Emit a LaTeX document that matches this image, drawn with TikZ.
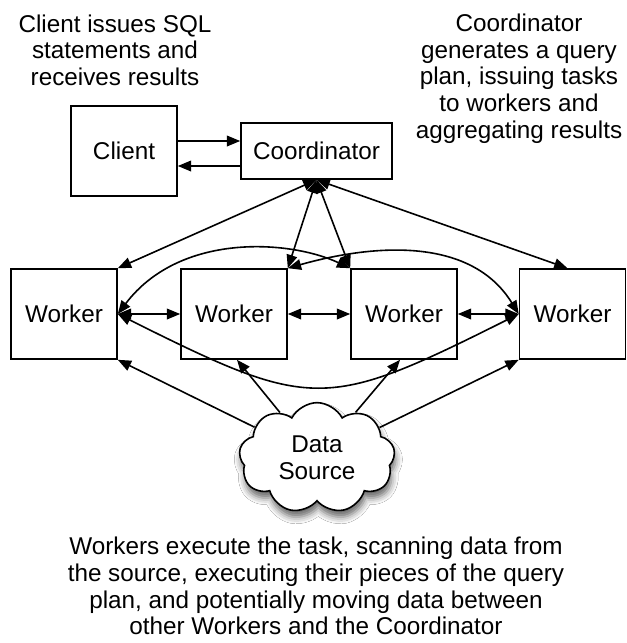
\documentclass[tikz,border=0pt]{standalone}
\usepackage{fontspec}
\setmainfont{Liberation Sans}
\usetikzlibrary{arrows.meta,shapes.symbols,shadows.blur,calc}
\begin{document}
\begin{tikzpicture}[x=0.75pt,y=-0.75pt,
  every node/.style={font=\fontsize{18.2pt}{20pt}\selectfont},
  box/.style={draw, line width=1.2pt, minimum width=79.5pt, minimum height=67.5pt, inner sep=0pt},
  link/.style={line width=1.2pt, -{Triangle[length=10pt,width=8pt]}},
  dlink/.style={line width=1.2pt, {Triangle[length=10pt,width=8pt]}-{Triangle[length=10pt,width=8pt]}},
  note/.style={align=center, inner sep=0pt},
  cloudbox/.style={cloud, cloud puffs=9, cloud puff arc=125, cloud ignores aspect, draw, fill=white, line width=1.2pt,
     minimum width=117pt, minimum height=83pt, inner sep=0pt, align=center,
     blur shadow={shadow xshift=1pt, shadow yshift=-5pt, shadow blur radius=5pt, shadow opacity=60}}]
\path[fill=white,use as bounding box] (0,0) rectangle (626,643);

% notes
\node[note] (noteclient) at (115,50.3) {Client issues SQL\\statements and\\receives results};
\node[note] (notecoord) at (519,78.5) {Coordinator\\generates a query\\plan, issuing tasks\\to workers and\\aggregating results};
\node[note] (noteworker) at (316,586) {Workers execute the task, scanning data from\\the source, executing their pieces of the query\\plan, and potentially moving data between\\other Workers and the Coordinator};

% boxes
\node[box] (client) at (124,151) {Client};
\node[box, minimum width=113.25pt, minimum height=42pt] (coord) at (316.5,151) {Coordinator};
\node[box] (w1) at (64,314) {Worker};
\node[box] (w2) at (234,314) {Worker};
\node[box] (w3) at (404,314) {Worker};
\node[box] (w4) at (572.5,314) {Worker};
\node[cloudbox] (src) at (317,458) {Data\\Source};

% client <-> coordinator
\draw[link] ($(client.east)+(0,-10)$) -- ($(coord.west)+(0,-10)$);
\draw[link] ($(coord.west)+(0,15)$) -- ($(client.east)+(0,15)$);

% coordinator <-> workers
\draw[dlink] (coord.south) -- (w1.north east);
\draw[dlink] (coord.south) -- (w2.north east);
\draw[dlink] (coord.south) -- (w3.north west);
\draw[dlink] (coord.south) -- ($(w4.north)+(-5,0)$);

% worker <-> worker
\draw[dlink] (w1.east) -- (w2.west);
\draw[dlink] (w2.east) -- (w3.west);
\draw[dlink] (w3.east) -- (w4.west);
\draw[dlink] (w1.east) .. controls (180,232) and (290,240) .. (w3.north west);
\draw[dlink] (w2.north east) .. controls (370,245) and (470,235) .. (w4.west);
\draw[dlink] (w1.east) .. controls (312,411) and (325,411) .. (w4.west);

% data source -> workers
\draw[link] (src) -- (w1.south east);
\draw[link] (src) -- ($(w2.south)+(3,0)$);
\draw[link] (src) -- ($(w3.south)+(-4,0)$);
\draw[link] (src) -- (w4.south west);
\end{tikzpicture}
\end{document}
